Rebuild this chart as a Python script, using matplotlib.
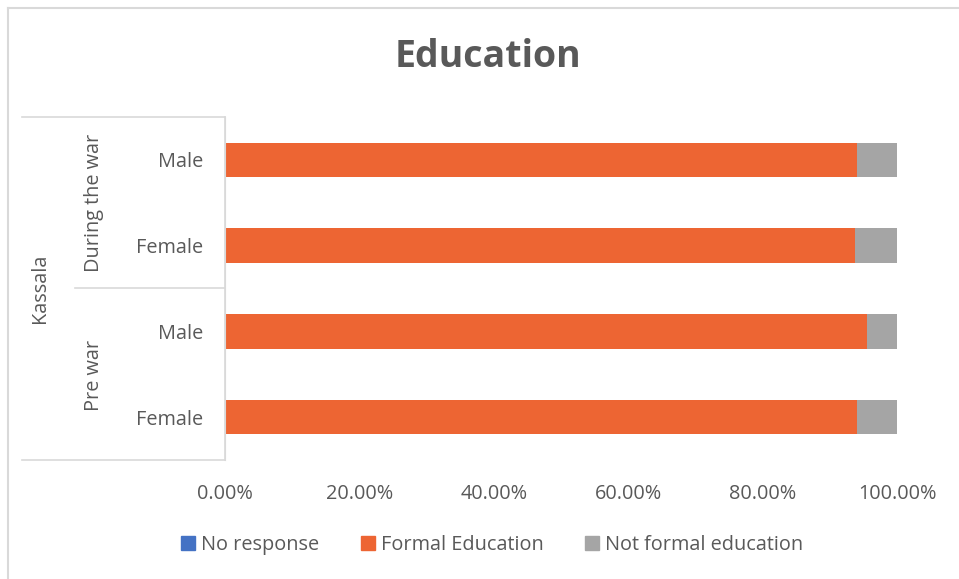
import matplotlib
matplotlib.use('Agg')
import matplotlib.pyplot as plt
from matplotlib.lines import Line2D
from matplotlib.patches import Patch
import numpy as np

# bottom to top, as drawn
groups = ['Pre war', 'Pre war', 'During the war', 'During the war']
sexes = ['Female', 'Male', 'Female', 'Male']
no_response = [0.0, 0.0, 0.0, 0.0]
formal = [0.941, 0.956, 0.937, 0.941]
not_formal = [1 - f - n for f, n in zip(formal, no_response)]
series_names = ['No response', 'Formal Education', 'Not formal education']
colors = ['#4472C4', '#ED6533', '#A5A5A5']
xticks = [0, 0.2, 0.4, 0.6, 0.8, 1.0]

W, H = 959, 579
txt = '#595959'
fs = 14.3
plt.rcParams['font.family'] = ['Open Sans', 'DejaVu Sans']


def fx(x):
    return x / W


def fy(y):
    return 1 - y / H


fig = plt.figure(figsize=(W / 100, H / 100), dpi=100)
ax = fig.add_axes([fx(225), fy(460), fx(897) - fx(225), fy(117) - fy(460)])

y = np.arange(len(sexes))
left = np.zeros(len(sexes))
for name, vals, c in zip(series_names, [no_response, formal, not_formal], colors):
    ax.barh(y, vals, left=left, height=0.4, color=c, label=name)
    left += np.array(vals)

ax.set_xlim(0, 1)
ax.set_ylim(-0.5, len(sexes) - 0.5)
ax.set_xticks(xticks)
ax.set_xticklabels([f'{t * 100:.2f}%' for t in xticks], color=txt, fontsize=fs)
ax.set_yticks(y)
ax.set_yticklabels(sexes, color=txt, fontsize=fs)
ax.tick_params(length=0)
ax.tick_params(axis='x', pad=17)
ax.tick_params(axis='y', pad=16)
for s in ['top', 'right', 'bottom']:
    ax.spines[s].set_visible(False)
ax.spines['left'].set_color('#D9D9D9')

# category grouping lines
lc = '#D9D9D9'
for xs, ys in [([22, 225], [117, 117]), ([22, 225], [460, 460]),
               ([75, 225], [288, 288]), ([225, 225], [117, 460])]:
    fig.add_artist(Line2D([fx(v) for v in xs], [fy(v) for v in ys], color=lc, lw=1.2))

fig.text(fx(94), fy(203), 'During the war', rotation=90, ha='center', va='center',
         color=txt, fontsize=fs)
fig.text(fx(94), fy(375), 'Pre war', rotation=90, ha='center', va='center',
         color=txt, fontsize=fs)
fig.text(fx(40), fy(288), 'Kassala', rotation=90, ha='center', va='center',
         color=txt, fontsize=fs)

fig.text(fx(488), fy(57), 'Education', ha='center', va='center', color=txt,
         fontsize=27, fontweight='bold')

handles = [Patch(color=c) for c in colors]
fig.legend(handles, series_names, loc='center', bbox_to_anchor=(fx(492), fy(545)),
           ncol=3, frameon=False, fontsize=fs, labelcolor=txt,
           handlelength=0.7, handleheight=0.7, handletextpad=0.3, columnspacing=2.1)

# chart frame (only top and left edges visible)
fig.add_artist(Line2D([fx(8), fx(958)], [fy(8), fy(8)], color=lc, lw=1.5))
fig.add_artist(Line2D([fx(8), fx(8)], [fy(8), 0], color=lc, lw=1.5))

fig.savefig('out.png', dpi=100)
